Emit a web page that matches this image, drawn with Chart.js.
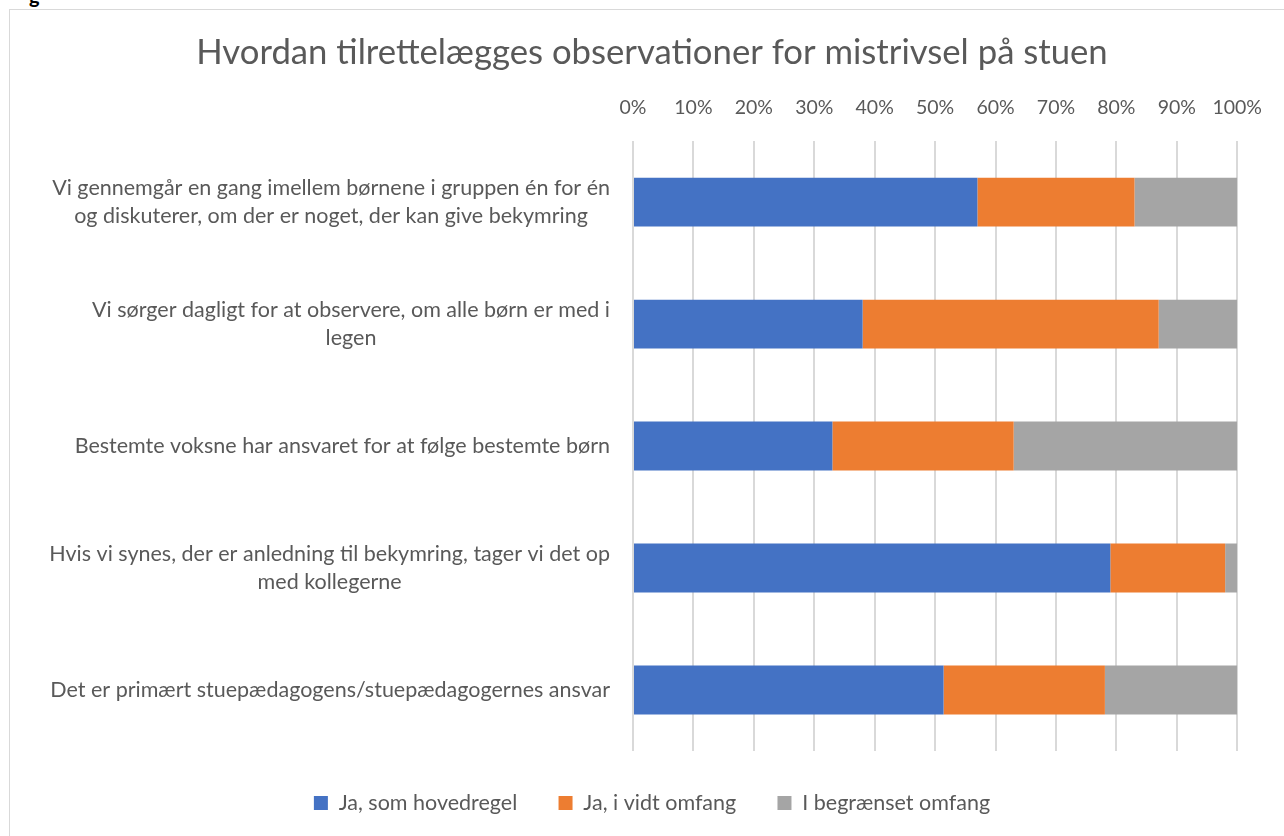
<!DOCTYPE html>
<html>
<head>
<meta charset="utf-8">
<script src="https://cdn.jsdelivr.net/npm/chart.js@4"></script>
<style>
  html, body { margin: 0; padding: 0; background: #fff; overflow: hidden; }
  body { width: 1284px; height: 836px; position: relative; font-family: Lato, sans-serif; }
  #frame { position: absolute; left: 9px; top: 9px; width: 1300px; height: 860px; border: 1px solid #d9d9d9; box-sizing: border-box; }
  #cut { position: absolute; left: 29px; top: -15.5px; font: bold 20px/20px Lato, sans-serif; color: #000; }
  #wrap { position: absolute; left: 0; top: 0; width: 1284px; height: 836px; }
</style>
</head>
<body>
<div id="cut">g</div>
<div id="frame"></div>
<div id="wrap"><canvas id="c"></canvas></div>
<script>
const titleText = 'Hvordan tilrettelægges observationer for mistrivsel på stuen';
const categories = [
  ['Vi gennemgår en gang imellem børnene i gruppen én for én', 'og diskuterer, om der er noget, der kan give bekymring'],
  ['Vi sørger dagligt for at observere, om alle børn er med i', 'legen'],
  ['Bestemte voksne har ansvaret for at følge bestemte børn'],
  ['Hvis vi synes, der er anledning til bekymring, tager vi det op', 'med kollegerne'],
  ['Det er primært stuepædagogens/stuepædagogernes ansvar']
];
const seriesNames = ['Ja, som hovedregel', 'Ja, i vidt omfang', 'I begrænset omfang'];
const jaHovedregel = [57, 38, 33, 79, 51.4];
const jaVidtOmfang = [26, 49, 30, 19, 26.7];
const begraenset   = [17, 13, 37, 2, 21.9];
const tickValues = [0, 10, 20, 30, 40, 50, 60, 70, 80, 90, 100];

const textColor = '#595959';
const fontFamily = 'Lato, sans-serif';

const yLabelPlugin = {
  id: 'yLabels',
  afterDraw(chart) {
    const ctx = chart.ctx;
    const ys = chart.scales.y;
    const right = chart.chartArea.left - 23;
    const lh = 28;
    ctx.save();
    ctx.font = '21.5px ' + fontFamily;
    ctx.fillStyle = textColor;
    ctx.textAlign = 'center';
    ctx.textBaseline = 'middle';
    categories.forEach((lines, i) => {
      const yc = ys.getPixelForValue(i);
      let w = 0;
      lines.forEach(l => { w = Math.max(w, ctx.measureText(l).width); });
      const cx = right - w / 2;
      const y0 = yc - (lines.length - 1) * lh / 2;
      lines.forEach((l, j) => ctx.fillText(l, cx, y0 + j * lh));
    });
    ctx.restore();
  }
};

new Chart(document.getElementById('c'), {
  type: 'bar',
  data: {
    labels: categories.map(c => c.join(' ')),
    datasets: [
      { label: seriesNames[0], data: jaHovedregel, backgroundColor: '#4472C4' },
      { label: seriesNames[1], data: jaVidtOmfang, backgroundColor: '#ED7D31' },
      { label: seriesNames[2], data: begraenset, backgroundColor: '#A5A5A5' }
    ]
  },
  options: {
    indexAxis: 'y',
    responsive: true,
    maintainAspectRatio: false,
    animation: false,
    datasets: { bar: { barPercentage: 0.4, categoryPercentage: 1 } },
    layout: { padding: { top: 10, left: 66, right: 46, bottom: 12.25 } },
    plugins: {
      title: {
        display: true,
        text: titleText,
        color: textColor,
        font: { family: fontFamily, size: 34.7, weight: 'normal', lineHeight: 1.2 },
        padding: { top: 22.2, bottom: 10 }
      },
      legend: {
        position: 'bottom',
        labels: {
          color: textColor,
          font: { family: fontFamily, size: 21.5 },
          boxWidth: 14,
          boxHeight: 14,
          padding: 41.25
        }
      },
      tooltip: { enabled: false }
    },
    scales: {
      x: {
        position: 'top',
        stacked: true,
        min: 0,
        max: 100,
        afterFit: (s) => { s.height = 57.2; },
        afterBuildTicks: (s) => { s.ticks = tickValues.map(v => ({ value: v })); },
        ticks: {
          color: textColor,
          font: { family: fontFamily, size: 19.5, lineHeight: 1.2 },
          padding: 22,
          callback: (v) => v + '%'
        },
        grid: { color: '#d9d9d9', lineWidth: 2, drawTicks: false },
        border: { display: false }
      },
      y: {
        stacked: true,
        afterFit: (s) => { s.width = 633 - 66; },
        ticks: { display: false },
        grid: { display: false },
        border: { display: false }
      }
    }
  },
  plugins: [yLabelPlugin]
});
</script>
</body>
</html>
